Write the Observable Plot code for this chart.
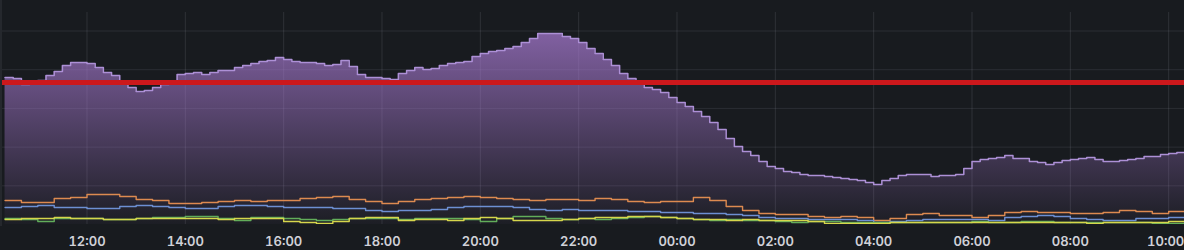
<!DOCTYPE html>
<html>
<head>
<meta charset="utf-8">
<script src="https://cdn.jsdelivr.net/npm/d3@7"></script>
<script src="https://cdn.jsdelivr.net/npm/@observablehq/plot@0.6"></script>
<style>
  html, body { margin: 0; padding: 0; background: #181b1f; overflow: hidden; }
  #wrap { position: relative; width: 1184px; height: 250px; }
  #edge { position: absolute; left: 0; top: 0; width: 2px; height: 226px; background: #25282d; }
</style>
</head>
<body>
<div id="wrap"><div id="chart"></div><div id="edge"></div></div>
<script>
// ---- data ----
const seriesStart = "2024-01-01T10:20:00Z";
const purpleStepMin = 10;   // sampling step of the purple series (minutes)
const lineStepMin = 20;     // sampling step of the four small series (minutes)

const purple = [
  147,146,140,142,144,149,153,159,162,162,
  161,157,152,149,141,137,133,134,137,140,
  142,150,151,152,150,152,154,154,157,159,
  161,163,164,167,165,163,162,162,161,159,
  160,164,158,150,147,147,146,145,151,154,
  157,155,156,159,161,162,163,168,171,173,
  174,176,178,182,186,191,191,191,188,186,
  182,176,171,165,159,151,146,141,137,135,
  132,127,122,118,113,108,102,95,86,78,
  73,69,63,58,56,53,52,50,49,49,
  48,47,46,45,44,42,40,44,46,49,
  50,50,50,48,49,49,50,56,63,65,
  66,67,69,66,66,63,62,60,62,64,
  65,66,67,65,63,63,64,65,66,68,
  68,70,71,72,72
];
const orange = [24,22,22,26,27,30,30,28,25,24,21,21,22,23,24,23,24,24,26,27,28,25,23,21,23,25,26,27,28,27,26,25,24,25,25,24,26,25,23,22,23,23,27,24,18,14,11,10,10,8,7,8,7,4,6,10,11,9,9,7,9,12,13,12,12,11,11,12,14,13,11,13,14];
const blue   = [17,18,19,17,17,16,16,18,19,18,17,16,16,18,19,19,18,17,17,17,16,16,14,13,14,14,15,17,18,18,18,17,15,14,15,14,14,14,13,13,12,12,11,11,10,9,7,6,6,5,5,5,4,2,3,4,5,5,5,5,4,7,8,9,8,6,5,4,4,6,6,7,7];
const green  = [6,5,3,6,6,6,5,5,6,7,7,8,8,6,4,7,7,6,5,4,5,6,6,6,5,6,6,6,5,3,6,8,8,6,5,6,5,6,7,8,7,6,5,4,5,4,4,3,2,3,3,2,2,2,2,2,2,2,2,3,2,2,3,3,2,2,2,2,2,2,1,1,1];
const yellow = [5,6,6,7,6,6,5,5,6,6,6,6,6,5,6,6,6,3,2,1,3,6,7,7,4,5,5,4,6,7,6,4,4,4,5,6,7,7,8,8,7,6,5,5,4,5,4,4,4,3,1,1,1,1,2,2,2,2,2,2,2,2,2,2,2,2,1,2,2,2,2,3,2];
const threshold = 142;

const xDomain = ["2024-01-01T10:14:27Z", "2024-01-02T10:19:19Z"];
const yDomain = [0, 224];
const xTicks = ["2024-01-01T12:00Z","2024-01-01T14:00Z","2024-01-01T16:00Z","2024-01-01T18:00Z",
  "2024-01-01T20:00Z","2024-01-01T22:00Z","2024-01-02T00:00Z","2024-01-02T02:00Z",
  "2024-01-02T04:00Z","2024-01-02T06:00Z","2024-01-02T08:00Z","2024-01-02T10:00Z"];
const yTicks = [38.7, 77.4, 116.1, 154.8, 193.5];
const vGridTop = 212;

const colors = { purpleLine: "#ad90d6", purpleFill: "#a87ad2", orange: "#dd8a50", blue: "#6d8fd3", green: "#62ad5a", yellow: "#d6d64c", red: "#cc181c" };

// ---- build tables ----
const t0 = new Date(seriesStart).getTime();
const toRows = (arr, stepMin) => arr.map((v, i) => ({ t: new Date(t0 + i * stepMin * 60000), v }));
const purpleRows = toRows(purple, purpleStepMin);
const smallSeries = [
  { rows: toRows(orange, lineStepMin), color: colors.orange },
  { rows: toRows(blue, lineStepMin), color: colors.blue },
  { rows: toRows(green, lineStepMin), color: colors.green },
  { rows: toRows(yellow, lineStepMin), color: colors.yellow }
];
const tickDates = xTicks.map(d => new Date(d));
const axisOpts = { tickSize: 0, tickPadding: 12, tickFormat: d3.utcFormat("%H:%M"), fill: "#d0d1d8", label: null };

const chart = Plot.plot({
  width: 1184,
  height: 250,
  marginTop: 0,
  marginRight: 0,
  marginBottom: 26,
  marginLeft: 0,
  style: { background: "#181b1f", color: "#d0d1d8", fontFamily: "Inter, sans-serif", fontSize: "13px", fontWeight: 600 },
  x: { type: "utc", domain: xDomain.map(d => new Date(d)), label: null },
  y: { domain: yDomain, axis: null },
  marks: [
    Plot.gridY(yTicks, { stroke: "#ccccdc", strokeOpacity: 0.11, strokeWidth: 1 }),
    Plot.gridX(tickDates, { y1: 0, y2: vGridTop, stroke: "#ccccdc", strokeOpacity: 0.13, strokeWidth: 1 }),
    Plot.areaY(purpleRows, { x: "t", y: "v", curve: "step-after", fill: "url(#pgrad)", clip: true }),
    ...smallSeries.map(s => Plot.lineY(s.rows, { x: "t", y: "v", curve: "step-after", stroke: s.color, strokeWidth: 1.4, clip: true })),
    Plot.lineY(purpleRows, { x: "t", y: "v", curve: "step-after", stroke: colors.purpleLine, strokeWidth: 1.5, clip: true }),
    Plot.ruleY([threshold], { stroke: colors.red, strokeWidth: 5 }),
    Plot.axisX(tickDates.slice(0, -1), axisOpts),
    Plot.axisX(tickDates.slice(-1), { ...axisOpts, dx: -3 })
  ]
});

const defs = d3.select(chart).insert("defs", ":first-child");
const g = defs.append("linearGradient").attr("id", "pgrad")
  .attr("gradientUnits", "userSpaceOnUse").attr("x1", 0).attr("x2", 0).attr("y1", 0).attr("y2", 224);
g.append("stop").attr("offset", 0).attr("stop-color", colors.purpleFill).attr("stop-opacity", 0.85);
g.append("stop").attr("offset", 1).attr("stop-color", colors.purpleFill).attr("stop-opacity", 0.03);

document.getElementById("chart").appendChild(chart);
</script>
</body>
</html>
